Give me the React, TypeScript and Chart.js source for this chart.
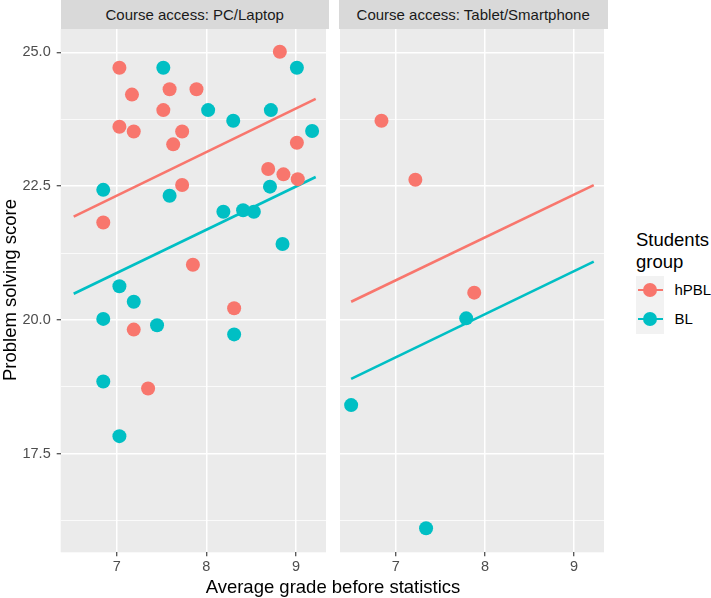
import React, { useEffect, useRef } from "react";
import { Chart, registerables } from "chart.js";

Chart.register(...registerables);

// ---- data ----
const groups = ["hPBL", "BL"];
const groupColors = ["#F8766D", "#00BFC4"];
const panels = ["Course access: PC/Laptop", "Course access: Tablet/Smartphone"];

// PC/Laptop panel
const pcHpblX = [7.03, 7.17, 7.03, 7.19, 7.52, 7.59, 7.89, 7.73, 7.63, 7.73, 8.82, 9.01, 8.69, 8.86, 9.02, 6.85, 7.85, 8.31, 7.19, 7.35];
const pcHpblY = [24.71, 24.21, 23.61, 23.52, 23.92, 24.31, 24.31, 23.52, 23.28, 22.52, 25.01, 23.31, 22.82, 22.72, 22.63, 21.82, 21.03, 20.22, 19.82, 18.72];
const pcBlX = [7.52, 9.01, 8.02, 8.3, 8.72, 9.18, 6.85, 7.59, 8.71, 8.19, 8.41, 8.53, 8.85, 7.03, 7.19, 6.85, 7.45, 8.31, 6.85, 7.03];
const pcBlY = [24.71, 24.71, 23.92, 23.72, 23.92, 23.53, 22.43, 22.32, 22.49, 22.02, 22.05, 22.02, 21.42, 20.63, 20.34, 20.02, 19.9, 19.73, 18.85, 17.83];

// Tablet/Smartphone panel
const tabHpblX = [6.84, 7.22, 7.88];
const tabHpblY = [23.72, 22.62, 20.51];
const tabBlX = [7.79, 6.5, 7.34];
const tabBlY = [20.03, 18.41, 16.11];

// fitted lines (start/end)
const pcHpblFitX = [6.52, 9.22];
const pcHpblFitY = [21.93, 24.13];
const pcBlFitX = [6.52, 9.22];
const pcBlFitY = [20.49, 22.67];
const tabHpblFitX = [6.5, 9.22];
const tabHpblFitY = [20.34, 22.52];
const tabBlFitX = [6.5, 9.22];
const tabBlFitY = [18.9, 21.09];

// axes
const xTicks = [7, 8, 9];
const yMajor = [17.5, 20, 22.5, 25];
const yMinor = [16.25, 18.75, 21.25, 23.75];
const xMin = 6.375;
const xMax = 9.335;
const yMin = 15.66;
const yMax = 25.435;

const FONT = "'Liberation Sans', Arial, Helvetica, sans-serif";

const zip = (xs: number[], ys: number[]) => xs.map((x, i) => ({ x, y: ys[i] }));

const bgPlugin = {
  id: "panelBg",
  beforeDraw(chart: any) {
    const { ctx, chartArea } = chart;
    ctx.save();
    ctx.fillStyle = "#EBEBEB";
    ctx.fillRect(chartArea.left, chartArea.top, chartArea.right - chartArea.left, chartArea.bottom - chartArea.top);
    ctx.restore();
  },
};

type PanelProps = {
  left: number;
  width: number;
  yAxisWidth: number;
  padRight: number;
  showY: boolean;
  hX: number[];
  hY: number[];
  bX: number[];
  bY: number[];
  hfX: number[];
  hfY: number[];
  bfX: number[];
  bfY: number[];
};

function Panel(p: PanelProps) {
  const ref = useRef<HTMLCanvasElement>(null);
  useEffect(() => {
    if (!ref.current) return;
    const lineDs = (xs: number[], ys: number[], c: string) => ({
      type: "line" as const,
      data: zip(xs, ys),
      borderColor: c,
      borderWidth: 2.6,
      pointRadius: 0,
      showLine: true,
      fill: false,
    });
    const ptDs = (xs: number[], ys: number[], c: string) => ({
      type: "scatter" as const,
      data: zip(xs, ys),
      backgroundColor: c,
      borderWidth: 0,
      pointRadius: 7,
      pointHoverRadius: 7,
    });
    const chart = new Chart(ref.current, {
      type: "scatter",
      data: {
        datasets: [
          ptDs(p.hX, p.hY, groupColors[0]),
          ptDs(p.bX, p.bY, groupColors[1]),
          lineDs(p.hfX, p.hfY, groupColors[0]),
          lineDs(p.bfX, p.bfY, groupColors[1]),
        ] as any,
      },
      options: {
        animation: false,
        responsive: false,
        maintainAspectRatio: false,
        events: [],
        layout: { padding: { left: 0, top: 29, right: p.padRight, bottom: 0 } },
        plugins: { legend: { display: false }, tooltip: { enabled: false } },
        scales: {
          x: {
            type: "linear",
            min: xMin,
            max: xMax,
            afterBuildTicks: (s: any) => {
              s.ticks = xTicks.map((v) => ({ value: v }));
            },
            afterFit: (s: any) => {
              s.height = 598 - 552.3;
            },
            border: { display: false },
            grid: {
              color: "#FFFFFF",
              lineWidth: 1.5,
              drawTicks: true,
              tickLength: 4,
              tickColor: "#333333",
              tickWidth: 1.1,
            },
            ticks: {
              padding: 2,
              color: "#4D4D4D",
              font: { family: FONT, size: 14.5 },
              callback: (v: any) => String(v),
            },
          },
          y: {
            type: "linear",
            min: yMin,
            max: yMax,
            afterBuildTicks: (s: any) => {
              s.ticks = [...yMinor, ...yMajor].sort((a, b) => a - b).map((v) => ({ value: v }));
            },
            afterFit: (s: any) => {
              s.width = p.yAxisWidth;
            },
            border: { display: false },
            grid: {
              color: "#FFFFFF",
              lineWidth: (c: any) => (c.tick && yMajor.includes(c.tick.value) ? 1.5 : 0.75),
              drawTicks: p.showY,
              tickLength: 4,
              tickColor: (c: any) => (c.tick && yMajor.includes(c.tick.value) ? "#333333" : "rgba(0,0,0,0)"),
              tickWidth: 1.1,
            },
            ticks: {
              display: p.showY,
              padding: 6,
              color: "#4D4D4D",
              font: { family: FONT, size: 14.5 },
              callback: (v: any) => (yMajor.includes(v) ? Number(v).toFixed(1) : ""),
            },
          },
        },
      } as any,
      plugins: [bgPlugin],
    });
    return () => chart.destroy();
  }, []);
  return (
    <canvas
      ref={ref}
      width={p.width}
      height={598}
      style={{ position: "absolute", left: p.left, top: 0, width: p.width, height: 598 }}
    />
  );
}

const stripStyle = (left: number, width: number): React.CSSProperties => ({
  position: "absolute",
  left,
  top: 0,
  width,
  height: 29,
  lineHeight: "29px",
  background: "#D9D9D9",
  color: "#1A1A1A",
  fontFamily: FONT,
  fontSize: 15,
  textAlign: "center",
  whiteSpace: "nowrap",
});

export default function App() {
  useEffect(() => {
    document.body.style.margin = "0";
  }, []);
  return (
    <div style={{ position: "absolute", left: 0, top: 0, width: 711, height: 598, background: "#FFFFFF", overflow: "hidden" }}>
      <div style={stripStyle(60.7, 268)}>{panels[0]}</div>
      <div style={stripStyle(338.7, 269)}>{panels[1]}</div>
      <Panel
        left={0}
        width={333}
        yAxisWidth={60.7}
        padRight={333 - 328.7}
        showY={true}
        hX={pcHpblX}
        hY={pcHpblY}
        bX={pcBlX}
        bY={pcBlY}
        hfX={pcHpblFitX}
        hfY={pcHpblFitY}
        bfX={pcBlFitX}
        bfY={pcBlFitY}
      />
      <Panel
        left={333}
        width={278}
        yAxisWidth={5.7}
        padRight={278 - 274.7}
        showY={false}
        hX={tabHpblX}
        hY={tabHpblY}
        bX={tabBlX}
        bY={tabBlY}
        hfX={tabHpblFitX}
        hfY={tabHpblFitY}
        bfX={tabBlFitX}
        bfY={tabBlFitY}
      />
      {/* y axis title */}
      <div
        style={{
          position: "absolute",
          left: 9.6 - 150,
          top: 290 - 11,
          width: 300,
          height: 22,
          lineHeight: "22px",
          textAlign: "center",
          fontFamily: FONT,
          fontSize: 18.5,
          color: "#000",
          transform: "rotate(-90deg)",
          whiteSpace: "nowrap",
        }}
      >
        Problem solving score
      </div>
      {/* x axis title */}
      <div
        style={{
          position: "absolute",
          left: 333 - 200,
          top: 575.6,
          width: 400,
          height: 22,
          lineHeight: "22px",
          textAlign: "center",
          fontFamily: FONT,
          fontSize: 18.5,
          color: "#000",
          whiteSpace: "nowrap",
        }}
      >
        Average grade before statistics
      </div>
      {/* legend */}
      <div
        style={{
          position: "absolute",
          left: 636,
          top: 229,
          fontFamily: FONT,
          fontSize: 18.5,
          lineHeight: "22px",
          color: "#000",
          whiteSpace: "nowrap",
        }}
      >
        Students
        <br />
        group
      </div>
      {groups.map((g, i) => (
        <React.Fragment key={g}>
          <div
            style={{
              position: "absolute",
              left: 635.7,
              top: 275.5 + i * 29,
              width: 28.5,
              height: 29,
              background: "#F2F2F2",
            }}
          />
          <div
            style={{
              position: "absolute",
              left: 638,
              top: 290 + i * 29 - 1.3,
              width: 25,
              height: 2.6,
              background: groupColors[i],
            }}
          />
          <div
            style={{
              position: "absolute",
              left: 650 - 7,
              top: 290 + i * 29 - 7,
              width: 14,
              height: 14,
              borderRadius: "50%",
              background: groupColors[i],
            }}
          />
          <div
            style={{
              position: "absolute",
              left: 674.5,
              top: 290 + i * 29 - 11,
              height: 22,
              lineHeight: "22px",
              fontFamily: FONT,
              fontSize: 15,
              color: "#000",
              whiteSpace: "nowrap",
            }}
          >
            {g}
          </div>
        </React.Fragment>
      ))}
    </div>
  );
}
